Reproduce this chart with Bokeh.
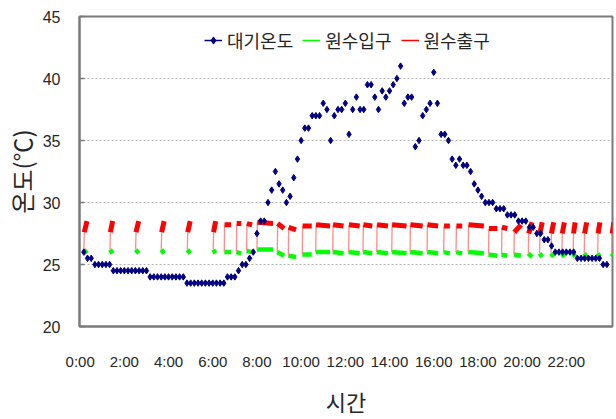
import math

from bokeh.plotting import figure
from bokeh.models import Range1d, FixedTicker, Legend, LegendItem
from bokeh.embed import file_html
from bokeh.resources import INLINE

# 대기온도 (air temperature), one reading every 10 minutes from 0:10 to 23:50
air_temp = [
    26.0, 25.5, 25.5, 25.0, 25.0, 25.0, 25.0, 25.0, 24.5, 24.5,
    24.5, 24.5, 24.5, 24.5, 24.5, 24.5, 24.5, 24.5, 24.0, 24.0,
    24.0, 24.0, 24.0, 24.0, 24.0, 24.0, 24.0, 24.0, 23.5, 23.5,
    23.5, 23.5, 23.5, 23.5, 23.5, 23.5, 23.5, 23.5, 23.5, 24.0,
    24.0, 24.0, 24.5, 25.0, 25.0, 25.5, 26.0, 27.5, 28.5, 28.5,
    30.0, 31.0, 32.5, 31.5, 31.0, 30.0, 30.5, 32.0, 33.5, 35.0,
    36.0, 36.0, 37.0, 37.0, 37.0, 38.0, 37.5, 35.0, 37.0, 37.5,
    37.5, 38.0, 35.5, 37.5, 38.5, 37.5, 37.5, 39.5, 39.5, 38.5,
    37.5, 39.0, 38.5, 39.0, 39.5, 40.0, 41.0, 38.0, 38.5, 38.5,
    34.5, 35.0, 37.0, 37.5, 38.0, 40.5, 38.0, 35.5, 35.5, 35.0,
    33.5, 33.0, 33.5, 33.0, 33.0, 32.5, 31.5, 31.0, 30.5, 30.0,
    30.0, 30.0, 29.5, 29.5, 29.5, 29.0, 29.0, 29.0, 28.5, 28.5,
    28.5, 28.0, 28.0, 27.5, 27.5, 27.0, 27.0, 26.5, 26.0, 26.0,
    26.0, 26.0, 26.0, 26.0, 25.5, 25.5, 25.5, 25.5, 25.5, 25.5,
    25.5, 25.0, 25.0,
]
air_interval_h = 1 / 6

# Pump runs: the inlet/outlet sensors only log while the pump is on (hours)
pump_on = [
    0.17, 1.35, 2.51, 3.67, 4.85, 6.02, 6.52, 7.07, 7.53, 8.00,
    8.92, 9.42, 10.05, 10.66, 11.43, 12.15, 12.80, 13.42, 14.10, 14.93,
    15.70, 16.45, 17.01, 17.56, 18.48, 19.07, 19.63, 20.28, 20.79, 21.31,
    21.80, 22.31, 22.81, 23.42, 24.06,
]
pump_off = [
    0.31, 1.47, 2.65, 3.80, 4.98, 6.13, 6.83, 7.29, 7.78, 8.73,
    9.23, 9.77, 10.48, 11.31, 11.92, 12.65, 13.22, 13.93, 14.77, 15.50,
    16.20, 16.73, 17.29, 18.27, 18.88, 19.33, 19.95, 20.45, 20.91, 21.43,
    21.91, 22.40, 22.92, 23.52, 24.15,
]
# 원수입구 (inlet) temperature at the start and end of each run
inlet_start = [
    26.2, 26.2, 26.2, 26.2, 26.2, 26.2, 26.0, 26.0, 26.1, 26.2,
    26.0, 25.7, 25.8, 26.0, 26.0, 26.0, 26.0, 26.0, 26.0, 26.0,
    26.0, 26.0, 26.0, 26.0, 25.8, 25.8, 25.8, 25.9, 25.9, 25.9,
    25.9, 25.9, 25.9, 25.9, 25.9,
]
inlet_end = [
    25.9, 25.9, 25.9, 25.9, 25.9, 25.9, 26.0, 25.9, 26.0, 26.2,
    25.7, 25.6, 25.8, 26.0, 25.9, 25.9, 25.9, 25.9, 25.9, 25.9,
    25.9, 25.9, 25.9, 25.9, 25.7, 25.7, 25.7, 25.6, 25.6, 25.6,
    25.6, 25.6, 25.6, 25.6, 25.6,
]
# 원수출구 (outlet) temperature one sample after start-up and at the end of each run
outlet_rise = [
    27.6, 27.6, 27.6, 27.6, 27.6, 27.6, 28.2, 28.3, 28.3, 28.4,
    28.3, 28.0, 28.1, 28.2, 28.2, 28.2, 28.2, 28.2, 28.2, 28.2,
    28.2, 28.1, 28.1, 28.2, 27.9, 28.0, 27.6, 27.5, 27.5, 27.5,
    27.5, 27.5, 27.5, 27.5, 27.5,
]
outlet_end = [
    28.5, 28.5, 28.5, 28.5, 28.5, 28.5, 28.2, 28.3, 28.2, 28.3,
    27.9, 27.8, 28.1, 28.1, 28.1, 28.1, 28.1, 28.1, 28.1, 28.1,
    28.1, 28.1, 28.1, 28.1, 27.9, 27.9, 28.2, 28.4, 28.4, 28.4,
    28.4, 28.4, 28.4, 28.4, 28.4,
]
sample_h = 1 / 60  # logger interval of the inlet/outlet sensors

hour_ticks = [0, 2, 4, 6, 8, 10, 12, 14, 16, 18, 20, 22]
hour_labels = ["0:00", "2:00", "4:00", "6:00", "8:00", "10:00",
               "12:00", "14:00", "16:00", "18:00", "20:00", "22:00"]
temp_ticks = [20, 25, 30, 35, 40, 45]

series_names = ["대기온도", "원수입구", "원수출구"]

NAVY = "#000080"
GREEN = "#00ff00"
RED = "#ff0000"
TEXT = "#262626"
FRAME = "#7a7a7a"

air_t = [(k + 1) * air_interval_h for k in range(len(air_temp))]

# per-run segments
rise_xs = [[on, on + sample_h] for on in pump_on]
rise_ys = [[a, b] for a, b in zip(inlet_start, outlet_rise)]
out_xs = [[on + sample_h, off] for on, off in zip(pump_on, pump_off)]
out_ys = [[a, b] for a, b in zip(outlet_rise, outlet_end)]
in_xs = [[on, off] for on, off in zip(pump_on, pump_off)]
in_ys = [[a, b] for a, b in zip(inlet_start, inlet_end)]

# continuous paths with gaps between runs (used for the legend keys)
in_path_x, in_path_y, out_path_x, out_path_y = [], [], [], []
for k in range(len(pump_on)):
    in_path_x += [pump_on[k], pump_off[k], math.nan]
    in_path_y += [inlet_start[k], inlet_end[k], math.nan]
    out_path_x += [pump_on[k], pump_on[k] + sample_h, pump_off[k], math.nan]
    out_path_y += [inlet_start[k], outlet_rise[k], outlet_end[k], math.nan]

p = figure(
    width=616, height=419,
    output_backend="svg", toolbar_location=None,
    x_range=Range1d(-0.03, 24.09), y_range=Range1d(20, 45),
    min_border_left=79, min_border_right=4, min_border_top=16, min_border_bottom=92,
    background_fill_color="white", border_fill_color="white",
)
p.outline_line_color = FRAME
p.outline_line_width = 2

# grid
p.xgrid.visible = False
p.ygrid.ticker = FixedTicker(ticks=temp_ticks)
p.ygrid.grid_line_color = "#b4b4b4"
p.ygrid.grid_line_dash = "2 2"
p.ygrid.grid_line_width = 1

# axes
p.xaxis.ticker = FixedTicker(ticks=hour_ticks)
p.xaxis.major_label_overrides = {t: lab for t, lab in zip(hour_ticks, hour_labels)}
p.yaxis.ticker = FixedTicker(ticks=temp_ticks)
for ax in (p.xaxis[0], p.yaxis[0]):
    ax.axis_line_color = FRAME
    ax.axis_line_width = 2
    ax.minor_tick_line_color = None
    ax.major_label_text_font = "Liberation Sans"
    ax.major_label_text_color = TEXT
    ax.axis_label_text_font = "Noto Sans CJK KR"
    ax.axis_label_text_font_style = "normal"
    ax.axis_label_text_color = TEXT
p.xaxis.major_tick_in = 0
p.xaxis.major_tick_out = 0
p.xaxis.major_label_text_font_size = "15px"
p.xaxis.major_label_standoff = 26
p.xaxis.axis_label = "시간"
p.xaxis.axis_label_text_font_size = "22px"
p.xaxis.axis_label_standoff = 12
p.yaxis.major_tick_in = 5
p.yaxis.major_tick_out = 0
p.yaxis.major_tick_line_color = FRAME
p.yaxis.major_tick_line_width = 1.5
p.yaxis.major_label_text_font_size = "16px"
p.yaxis.major_label_standoff = 19
p.yaxis.axis_label = "온도(℃)"
p.yaxis.axis_label_text_font_size = "24px"
p.yaxis.axis_label_standoff = 1

# inlet band
p.multi_line(xs=in_xs, ys=in_ys, line_color=GREEN, line_width=4.5, line_cap="butt")
# outlet: start-up rise then running band
p.multi_line(xs=rise_xs, ys=rise_ys, line_color="#ff8a8a", line_width=1.3)
p.multi_line(xs=out_xs, ys=out_ys, line_color=RED, line_width=5, line_cap="butt")
# air temperature points
air_pts = p.scatter(air_t, air_temp, marker="diamond", size=6.5,
                    fill_color=NAVY, line_color=NAVY)

# legend keys
air_key = p.line(air_t, air_temp, line_color=NAVY, line_width=1.5, visible=False)
in_key = p.line(in_path_x, in_path_y, line_color=GREEN, line_width=1.5, visible=False)
out_key = p.line(out_path_x, out_path_y, line_color=RED, line_width=1.5, visible=False)

legend = Legend(
    items=[
        LegendItem(label=series_names[0], renderers=[air_key, air_pts]),
        LegendItem(label=series_names[1], renderers=[in_key]),
        LegendItem(label=series_names[2], renderers=[out_key]),
    ],
    orientation="horizontal",
    location=(125, 273),
    background_fill_alpha=0,
    border_line_alpha=0,
    padding=0, margin=0,
    spacing=9, label_standoff=5,
    glyph_width=18, glyph_height=22, label_height=22,
    label_text_font="Noto Sans CJK KR",
    label_text_font_size="18px",
    label_text_color=TEXT,
)
p.add_layout(legend)

open("out.html", "w").write(file_html(p, INLINE))
